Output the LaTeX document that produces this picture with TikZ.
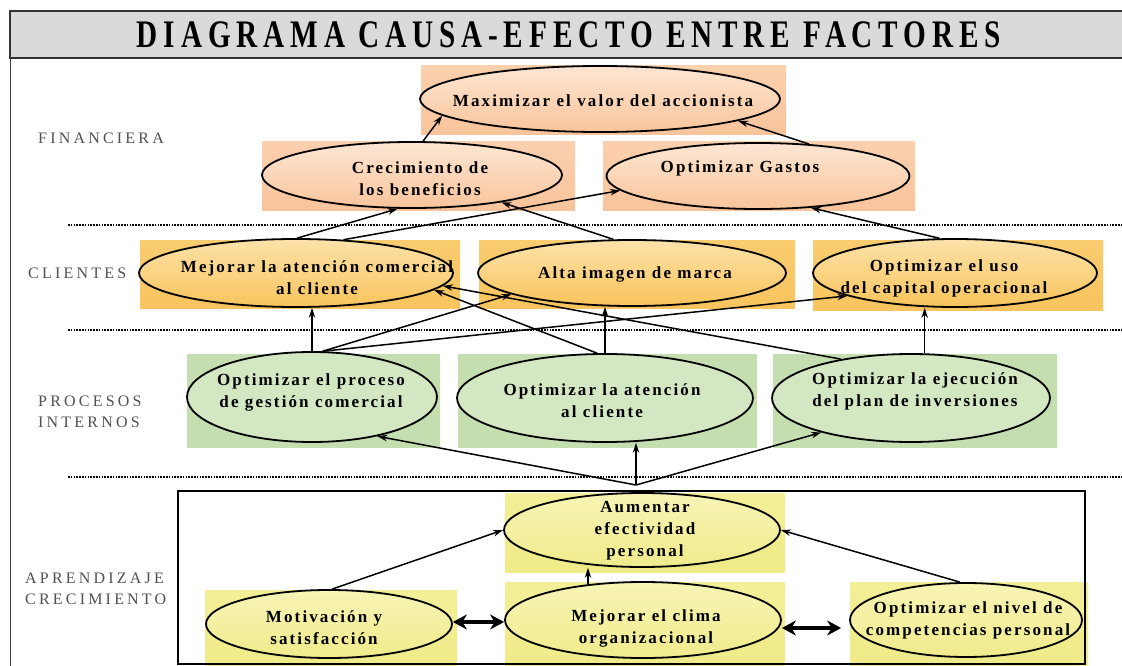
\documentclass[tikz,border=0pt]{standalone}
\usepackage{fontspec}
\setmainfont{Liberation Serif}
\newfontfamily\boxfont{Liberation Serif}[LetterSpace=12.5]
\newfontfamily\layerfont{Liberation Serif}[LetterSpace=20]
\newfontfamily\titlefont{Liberation Serif}[FakeStretch=0.75,LetterSpace=15]
\usetikzlibrary{shapes.geometric,arrows.meta}

\definecolor{titlegray}{HTML}{DADADA}
\definecolor{layergray}{HTML}{505050}
\definecolor{finbacktop}{HTML}{FBD0AE}
\definecolor{finbackbot}{HTML}{F9C49C}
\definecolor{finlight}{HTML}{FDE6D3}
\definecolor{findark}{HTML}{F9C59C}
\definecolor{clibacktop}{HTML}{F9CC70}
\definecolor{clibackbot}{HTML}{F8C45E}
\definecolor{clilight}{HTML}{FDE2AA}
\definecolor{clidark}{HTML}{F8C45C}
\definecolor{proback}{HTML}{C4DEB0}
\definecolor{promid}{HTML}{E6F1DC}
\definecolor{prolight}{HTML}{F3F9EE}
\definecolor{prodark}{HTML}{D2E7C2}
\definecolor{aprbacktop}{HTML}{F3EF98}
\definecolor{aprbackbot}{HTML}{EFEB88}
\definecolor{aprlight}{HTML}{F7F4B6}
\definecolor{aprdark}{HTML}{F0EB8C}

\tikzset{
    %Define standard arrow tip
    >={Stealth[length=10pt,width=6.5pt]},
    %Define style for background boxes
    finback/.style={top color=finbacktop, bottom color=finbackbot},
    cliback/.style={top color=clibacktop, bottom color=clibackbot},
    proback/.style={top color=proback, middle color=promid, bottom color=proback},
    aprback/.style={top color=aprbacktop, bottom color=aprbackbot},
    %Define style for ellipses
    elipse/.style={
           ellipse,
           draw,
           line width=1.8pt,
           inner sep=0pt},
    finell/.style={elipse, top color=finlight, bottom color=findark},
    cliell/.style={elipse, top color=clilight, bottom color=clidark},
    proell/.style={elipse, top color=prodark, middle color=prolight, bottom color=prodark},
    aprell/.style={elipse, top color=aprlight, bottom color=aprdark},
    % texts
    texto/.style={align=center, inner sep=0pt,
      font=\boxfont\bfseries\fontsize{17}{22}\selectfont},
    capa/.style={align=left, inner sep=0pt, anchor=west, text=layergray,
      font=\layerfont\fontsize{16}{21}\selectfont},
    divisor/.style={line width=1.6pt, dash pattern=on 1.6pt off 1.2pt},
    % Define arrow style
    pil/.style={
           ->,
           line width=1.5pt},
    doble/.style={<->, line width=3.5pt, >={Stealth[length=14pt,width=15pt]}}
}

\begin{document}
\begin{tikzpicture}[x=1pt, y=-1pt]
 \useasboundingbox (0,0) rectangle (1122,666);

 % frame and title
 \draw[line width=1pt, black!75] (10,58) -- (10,670);
 \draw[line width=1.6pt, draw=black!80, fill=titlegray] (10,11) rectangle (1135,58);
 \node[font=\titlefont\bfseries\fontsize{39}{40}\selectfont] (titulo) at (569,35)
   {DIAGRAMA CAUSA-EFECTO ENTRE FACTORES};

 % layer names
 \node[capa] (lfin) at (38,138) {FINANCIERA};
 \node[capa] (lcli) at (28,273) {CLIENTES};
 \node[capa] (lpro) at (38,412) {PROCESOS\\INTERNOS};
 \node[capa] (lapr) at (25,589) {APRENDIZAJE\\CRECIMIENTO};

 \draw[divisor] (68,225) -- (1122,225);
 \draw[divisor] (68,330) -- (1122,330);
 \draw[divisor] (68,477) -- (1122,477);

 % background boxes
 \path[finback] (421,66) rectangle (786,135);
 \path[finback] (262,142) rectangle (575,210);
 \path[finback] (603,142) rectangle (915,210);
 \path[cliback] (140,240) rectangle (460,308);
 \path[cliback] (479,240) rectangle (795,308);
 \path[cliback] (813,240) rectangle (1103,310);
 \path[proback] (187,354) rectangle (440,447);
 \path[proback] (458,354) rectangle (757,447);
 \path[proback] (773,354) rectangle (1057,447);
 \path[aprback] (505,493) rectangle (785,572);
 \path[aprback] (205,590) rectangle (457,666);
 \path[aprback] (505,582) rectangle (785,666);
 \path[aprback] (850,582) rectangle (1088,666);

 % aprendizaje box
 \draw[line width=2.5pt] (178,491) rectangle (1085,664);

 % financiera
 \node[finell, minimum width=360pt, minimum height=66pt] (maxval) at (600,99) {};
 \node[finell, minimum width=300pt, minimum height=66pt] (crec) at (412,175) {};
 \node[finell, minimum width=303pt, minimum height=66pt] (gastos) at (758,176) {};
 \node[texto] (maxvaltxt) at (603,101) {Maximizar el valor del accionista};
 \node[texto] (crectxt) at (420,179) {Crecimiento de\\los beneficios};
 \node[texto] (gastostxt) at (740,168) {Optimizar Gastos};

 % clientes
 \node[cliell, minimum width=314pt, minimum height=68pt] (mejorar) at (296,273) {};
 \node[cliell, minimum width=308pt, minimum height=66pt] (alta) at (632,273) {};
 \node[cliell, minimum width=284pt, minimum height=68pt] (uso) at (955,273) {};
 \node[texto] (mejorartxt) at (317,278) {Mejorar la atención comercial\\al cliente};
 \node[texto] (altatxt) at (635,274) {Alta imagen de marca};
 \node[texto] (usotxt) at (944,278) {Optimizar el uso\\del capital operacional};

 % procesos internos
 \node[proell, minimum width=250pt, minimum height=90pt] (proceso) at (312,397) {};
 \node[proell, minimum width=296pt, minimum height=88pt] (atencion) at (605,398) {};
 \node[proell, minimum width=278pt, minimum height=88pt] (ejec) at (911,398) {};
 \node[texto] (procesotxt) at (311,392) {Optimizar el proceso\\de gestión comercial};
 \node[texto] (atenciontxt) at (602,401) {Optimizar la atención\\al cliente};
 \node[texto] (ejectxt) at (915,391) {Optimizar la ejecución\\del plan de inversiones};

 % aprendizaje y crecimiento
 \node[aprell, minimum width=276pt, minimum height=74pt] (aum) at (642,530) {};
 \node[aprell, minimum width=246pt, minimum height=68pt] (motiv) at (329,624) {};
 \node[aprell, minimum width=276pt, minimum height=76pt] (clima) at (643,620) {};
 \node[aprell, minimum width=232pt, minimum height=74pt] (nivel) at (966,620) {};
 \node[texto] (aumtxt) at (645,531) {Aumentar\\efectividad\\personal};
 \node[texto] (motivtxt) at (324,628) {Motivación y\\satisfacción};
 \node[texto] (climatxt) at (646,628) {Mejorar el clima\\organizacional};
 \node[texto] (niveltxt) at (968,620) {Optimizar el nivel de\\competencias personal};
 \coordinate (aumtop) at (636,485);

 % paths
 \draw[pil] (crec.72) -- (maxval.186);
 \draw[pil] (gastos.32) -- (maxval.351);
 \draw[pil] (mejorar.88) -- (crec.247);
 \draw[pil] (mejorar.35) -- (gastos.186);
 \draw[pil] (alta.119) -- (crec.343);
 \draw[pil] (uso.114) -- (gastos.329);
 \draw[pil] (proceso.north) -- (proceso.north |- mejorar.south);
 \draw[pil] (proceso.77) -- (alta.190);
 \draw[pil] (proceso.77) -- (uso.192);
 \draw[pil] (atencion.100) -- (mejorar.353);
 \draw[pil] (atencion.north) -- (atencion.north |- alta.south);
 \draw[pil] (ejec.151) -- (mejorar.355);
 \draw[pil] (ejec.73) -- (ejec.73 |- uso.south);
 \draw[pil] (aumtop) -- (proceso.329);
 \draw[pil] (aumtop) -- (aumtop |- atencion.south);
 \draw[pil] (aumtop) -- (ejec.201);
 \draw[pil] (motiv.85) -- (aum.west);
 \draw[pil] (clima.147) -- (clima.147 |- aum.south);
 \draw[pil] (nivel.99) -- (aum.east);
 \draw[doble] ([yshift=2pt]motiv.east) -- ([yshift=-2pt]clima.west);
 \draw[doble] ([yshift=-8pt]clima.east) -- ([yshift=-8pt,xshift=-8pt]nivel.west);
\end{tikzpicture}
\end{document}
